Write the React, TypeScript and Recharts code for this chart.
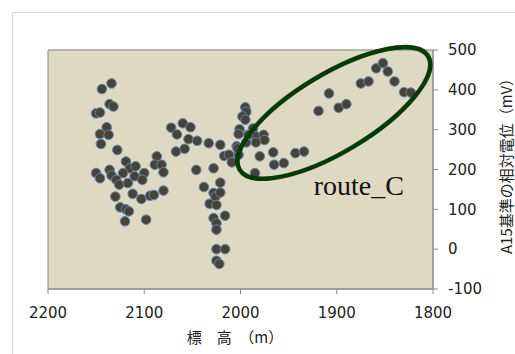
import React from 'react';
import {
  ScatterChart, Scatter, XAxis, YAxis, CartesianGrid, ReferenceDot, ReferenceArea,
} from 'recharts';

// 標高 (m)
const elevation = [
  2150, 2146, 2144, 2134, 2136, 2132, 2139, 2146, 2137, 2145, 2128,
  2150, 2146, 2136, 2134, 2129, 2126, 2130, 2125, 2119, 2116, 2120,
  2119, 2115, 2109, 2122, 2117, 2110, 2112, 2100, 2102, 2103, 2098,
  2094, 2090, 2087, 2089, 2082, 2080, 2080,
  2072, 2060, 2052, 2066, 2054, 2045, 2067, 2058, 2046, 2033, 2021,
  2028, 2038, 2032, 2028, 2026, 2021, 2021, 2025, 2028, 2025, 2025,
  2016, 2025, 2016, 2025, 2022, 2017, 2012, 2009, 2004, 2002,
  1995, 1994, 1998, 2001, 2002, 1995, 2003,
];
// A15基準の相対電位 (mV)
const potential = [
  341, 343, 402, 416, 364, 358, 306, 289, 287, 264, 249,
  191, 178, 199, 185, 174, 162, 132, 105, 100, 95, 70,
  220, 203, 208, 191, 166, 183, 139, 191, 174, 126, 74,
  134, 136, 233, 212, 212, 193, 147,
  305, 316, 306, 288, 276, 272, 245, 252, 199, 266, 262,
  203, 156, 114, 141, 132, 167, 142, 111, 78, 65, 49,
  84, 0, 0, -29, -37, 234, 237, 218, 258, 237,
  356, 345, 333, 301, 289, 325, 253,
];

// route_C 区間
const elevationC = [
  1987, 1984, 1976, 1975, 1984, 1994, 1992, 1980, 1985, 1966, 1965,
  1955, 1943, 1934, 1919, 1908, 1898, 1890, 1875, 1867, 1859, 1852,
  1847, 1840, 1830, 1823,
];
const potentialC = [
  303, 283, 287, 274, 268, 268, 287, 233, 191, 243, 212,
  216, 241, 245, 347, 391, 355, 364, 416, 421, 454, 467,
  446, 421, 394, 393,
];

const xTicks = [2200, 2100, 2000, 1900, 1800];
const yTicks = [-100, 0, 100, 200, 300, 400, 500];

const points = [
  ...elevation.map((x, i) => ({ x, y: potential[i] })),
  ...elevationC.map((x, i) => ({ x, y: potentialC[i] })),
];

const font = '"DejaVu Sans", Verdana, sans-serif';
const jpFont = '"Noto Sans CJK JP", "DejaVu Sans", sans-serif';

const Dot = (props: any) => (
  <circle cx={props.cx} cy={props.cy} r={4.8} fill="#4a4232" stroke="#5f88b3" strokeWidth={1} />
);

const Ellipse = (props: any) => (
  <ellipse
    cx={props.cx}
    cy={props.cy}
    rx={110}
    ry={39}
    fill="none"
    stroke="#063a06"
    strokeWidth={4.5}
    transform={`rotate(-31 ${props.cx} ${props.cy})`}
  />
);

const RouteLabel = (props: any) => (
  <text x={props.cx} y={props.cy} fontFamily='"Liberation Serif", "Times New Roman", serif' fontSize={28} fill="#111">
    route_C
  </text>
);

export default function App() {
  return (
    <div style={{ position: 'absolute', left: 0, top: 0, width: 515, height: 354, background: '#fff', overflow: 'hidden' }}>
      <div style={{ position: 'absolute', left: 12, top: 12, width: 600, height: 400, borderLeft: '1px solid #d8d8d8', borderTop: '1px solid #d8d8d8' }} />
      <ScatterChart width={515} height={354} margin={{ top: 50, right: 0, left: 48, bottom: 0 }} style={{ position: 'absolute', left: 0, top: 0 }}>
        <ReferenceArea x1={2200} x2={1800} y1={-100} y2={500} fill="#ddd9c3" fillOpacity={1} stroke="#8a8a80" strokeWidth={1} />
        <CartesianGrid horizontal vertical={false} stroke="#a9a594" strokeDasharray="1 1" />
        <XAxis
          type="number"
          dataKey="x"
          domain={[1800, 2200]}
          reversed
          ticks={xTicks}
          interval={0}
          height={65}
          tickSize={5}
          tickMargin={13}
          axisLine={{ stroke: '#8a8a8a' }}
          tickLine={{ stroke: '#8a8a8a' }}
          tick={{ fill: '#222', fontSize: 15, fontFamily: font }}
          label={(p: any) => (
            <text x={235} y={343} textAnchor="middle" fontFamily={jpFont} fontSize={15} fill="#222">
              標　高　（m）
            </text>
          )}
        />
        <YAxis
          type="number"
          dataKey="y"
          orientation="right"
          domain={[-100, 500]}
          ticks={yTicks}
          interval={0}
          width={82}
          tickSize={5}
          tickMargin={10}
          axisLine={{ stroke: '#8a8a8a' }}
          tickLine={{ stroke: '#8a8a8a' }}
          tick={{ fill: '#222', fontSize: 15, fontFamily: font, textAnchor: 'start' }}
          label={(p: any) => {
            const vb = p.viewBox || { x: 433, y: 50, width: 82, height: 239 };
            const cx = vb.x + 72;
            const cy = vb.y + vb.height / 2 - 7;
            return (
              <text x={cx} y={cy} textAnchor="middle" dominantBaseline="central" fontFamily={jpFont} fontSize={15} fill="#222" transform={`rotate(-90 ${cx} ${cy})`}>
                A15基準の相対電位（mV）
              </text>
            );
          }}
        />
        <Scatter data={points} shape={<Dot />} isAnimationActive={false} />
        <ReferenceDot x={1903} y={342} shape={<Ellipse />} ifOverflow="visible" />
        <ReferenceDot x={1924} y={137} shape={<RouteLabel />} ifOverflow="visible" />
      </ScatterChart>
    </div>
  );
}
